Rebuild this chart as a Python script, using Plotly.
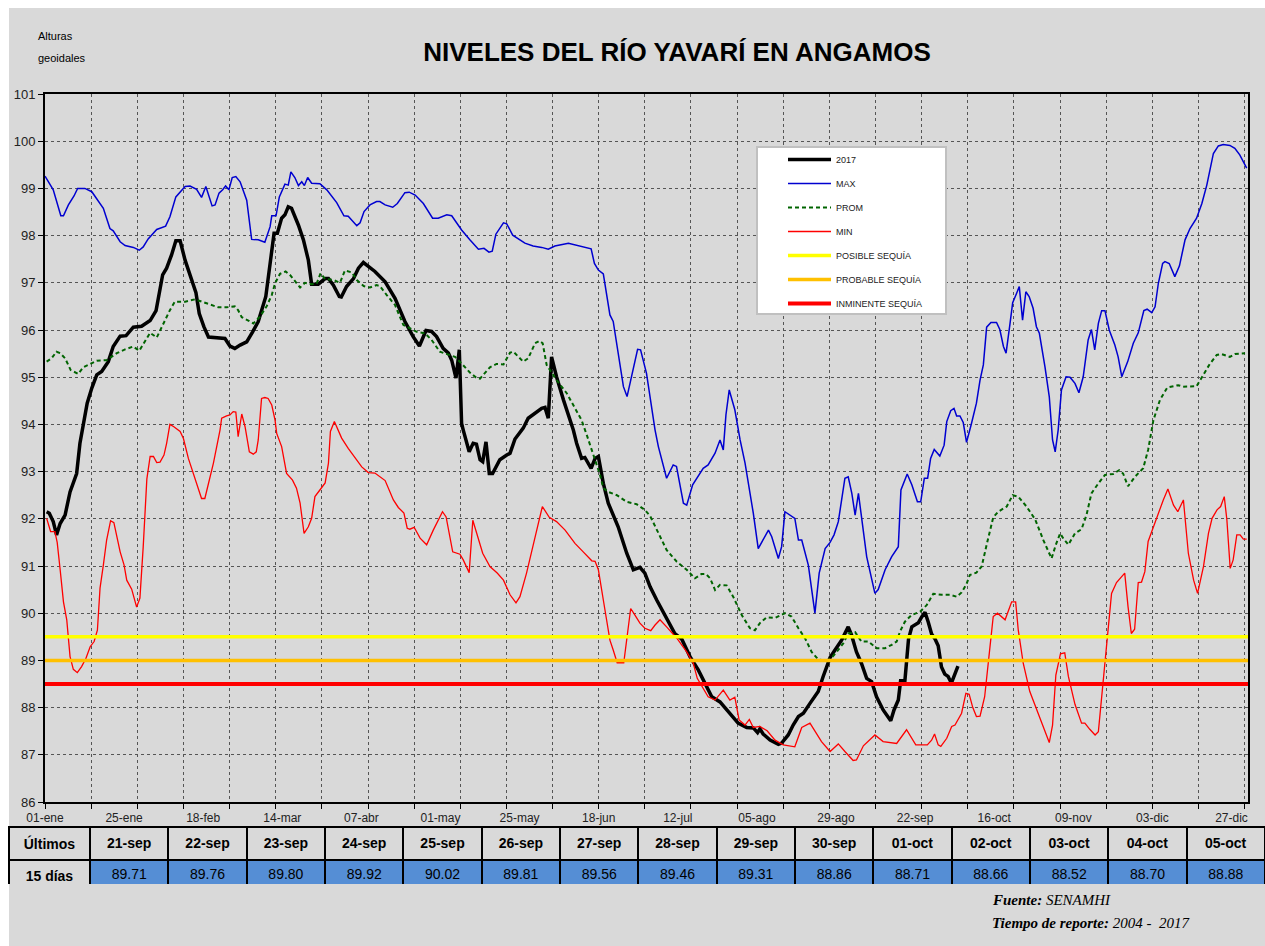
import plotly.graph_objects as go
import pandas as pd

# ---------------- data ----------------
tick_days = [0, 24, 48, 72, 96, 120, 144, 168, 192, 216, 240, 264, 288, 312, 336, 360]
tick_labels = ["01-ene", "25-ene", "18-feb", "14-mar", "07-abr", "01-may", "25-may", "18-jun",
               "12-jul", "05-ago", "29-ago", "22-sep", "16-oct", "09-nov", "03-dic", "27-dic"]

# last 15 days (table)
table_dates = ["2017-09-21", "2017-09-22", "2017-09-23", "2017-09-24", "2017-09-25",
               "2017-09-26", "2017-09-27", "2017-09-28", "2017-09-29", "2017-09-30",
               "2017-10-01", "2017-10-02", "2017-10-03", "2017-10-04", "2017-10-05"]
table_labels = ["21-sep", "22-sep", "23-sep", "24-sep", "25-sep", "26-sep", "27-sep", "28-sep",
                "29-sep", "30-sep", "01-oct", "02-oct", "03-oct", "04-oct", "05-oct"]
table_values = [89.71, 89.76, 89.80, 89.92, 90.02, 89.81, 89.56, 89.46,
                89.31, 88.86, 88.71, 88.66, 88.52, 88.70, 88.88]

# 2017 series before the table period (day of year, starting 0 = 01-ene)
y2017_days = [0.5, 1.3, 2.5, 3.5, 4.6, 6.1, 7.6, 9.6, 10.6, 11.1, 12.8, 14.2, 15.7, 17.2, 19.2, 20.7,
              22.8, 24.6, 26.8, 29.3, 31.9, 33.7, 35.7, 36.9, 38.4, 39.7, 41.0, 42.5, 44.5, 45.8,
              46.8, 48.2, 49.6, 51.1, 54.6, 56.1, 57.6, 59.2, 61.2, 63.0, 64.7, 67.0, 68.5, 69.5,
              70.5, 71.8, 72.8, 73.8, 74.8, 76.9, 78.4, 79.9, 80.9, 82.9, 85.0, 86.0, 87.5, 89.3,
              89.9, 91.5, 93.6, 95.1, 96.6, 98.1, 100.1, 103.2, 106.2, 109.2, 111.7, 113.6, 115.6,
              117.3, 118.8, 120.8, 122.4, 123.4, 124.7, 125.7, 126.4, 126.9, 128.7, 129.9, 130.9,
              132.0, 132.8, 133.8, 134.8, 135.8, 138.0, 140.1, 141.1, 142.6, 145.1, 146.6, 148.7,
              150.7, 151.7, 152.7, 153.7, 155.2, 157.3, 159.3, 160.3, 161.3, 162.8, 163.8, 165.7,
              166.9, 167.9, 169.4, 170.9, 173.9, 176.5, 178.5, 180.5, 182.0, 183.6, 185.6, 188.1,
              191.1, 193.2, 195.7, 198.2, 200.2, 202.3, 204.8, 207.8, 210.3, 212.9, 214.9, 216.2,
              216.9, 217.9, 220.0, 222.5, 223.5, 225.5, 227.0, 228.6, 230.1, 232.1, 234.6, 236.1,
              238.2, 239.7, 241.7, 243.7, 244.7, 246.2, 247.7, 249.3, 250.8, 252.3, 254.3, 256.6,
              257.6, 258.9, 259.6, 260.9, 261.6, 262.0]
y2017_vals = [92.15, 92.12, 91.94, 91.66, 91.90, 92.08, 92.57, 92.96, 93.60, 93.81, 94.45, 94.77,
              95.05, 95.12, 95.33, 95.65, 95.87, 95.88, 96.06, 96.08, 96.20, 96.41, 97.17, 97.31,
              97.59, 97.89, 97.89, 97.48, 97.06, 96.79, 96.35, 96.07, 95.85, 95.84, 95.82, 95.66,
              95.61, 95.68, 95.75, 95.96, 96.18, 96.71, 97.55, 98.05, 98.05, 98.37, 98.44, 98.61,
              98.58, 98.22, 97.91, 97.48, 96.97, 96.97, 97.09, 97.09, 96.95, 96.71, 96.70, 96.92,
              97.09, 97.31, 97.43, 97.34, 97.24, 97.02, 96.67, 96.18, 95.86, 95.66, 95.99, 95.97,
              95.86, 95.61, 95.51, 95.36, 94.98, 95.58, 94.02, 93.88, 93.42, 93.60, 93.58, 93.25,
              93.21, 93.63, 92.96, 92.96, 93.25, 93.35, 93.39, 93.69, 93.92, 94.13, 94.23, 94.34,
              94.36, 94.13, 95.43, 95.01, 94.52, 94.09, 93.88, 93.60, 93.28, 93.30, 93.07, 93.28,
              93.32, 92.75, 92.33, 91.83, 91.27, 90.92, 90.97, 90.85, 90.56, 90.28, 89.96, 89.57,
              89.45, 89.08, 88.80, 88.51, 88.23, 88.12, 87.88, 87.67, 87.58, 87.57, 87.47, 87.55,
              87.44, 87.31, 87.22, 87.25, 87.42, 87.63, 87.81, 87.88, 88.09, 88.34, 88.66, 89.06,
              89.22, 89.43, 89.71, 89.54, 89.18, 88.94, 88.62, 88.55, 88.23, 87.95, 87.72, 87.95,
              88.16, 88.57, 88.57, 89.22, 89.45]

max_days = [0, 2.5, 4.8, 5.6, 7.1, 8.8, 9.9, 12.1, 14.2, 17.7, 19.7, 20.7, 22.8, 24.3, 26.8, 28.6,
            29.8, 31.3, 33.9, 36.6, 37.9, 39.7, 42.5, 44.0, 46.0, 47.5, 48.8, 50.7, 51.6, 52.8,
            53.9, 54.8, 55.8, 56.8, 57.9, 59.2, 61.2, 62.7, 64.7, 66.7, 68.3, 68.8, 70.1, 71.1,
            72.8, 73.8, 74.6, 75.8, 76.9, 77.9, 78.7, 79.7, 80.9, 83.4, 85.5, 88.5, 90.7, 92.0,
            94.6, 95.6, 96.8, 98.6, 100.6, 101.6, 103.2, 105.5, 106.9, 109.2, 110.5, 112.3, 114.8,
            117.6, 119.3, 121.9, 123.4, 126.4, 128.9, 131.5, 133.2, 134.7, 135.7, 136.8, 139.1,
            140.1, 141.9, 144.1, 145.6, 148.1, 150.7, 152.7, 154.7, 158.8, 161.8, 165.7, 166.7,
            167.9, 169.4, 171.4, 172.4, 175.5, 176.6, 178.0, 179.8, 180.7, 182.5, 185.1, 186.1,
            188.6, 190.6, 191.6, 193.7, 194.7, 196.5, 199.7, 201.2, 203.3, 204.8, 205.8, 206.6,
            207.6, 209.3, 210.9, 212.4, 214.9, 216.4, 219.5, 220.5, 222.5, 223.5, 224.5, 227.5,
            228.6, 229.6, 231.6, 233.6, 234.9, 236.7, 238.2, 239.4, 240.7, 242.7, 243.7, 244.8,
            245.8, 246.8, 249.3, 251.8, 252.8, 254.9, 256.9, 258.9, 259.7, 261.6, 263.0, 264.7,
            265.7, 266.8, 267.8, 268.7, 269.8, 271.5, 272.8, 273.6, 274.8, 275.8, 276.6, 277.6,
            278.6, 279.6, 281.1, 282.6, 283.7, 284.7, 285.7, 287.0, 288.7, 289.7, 290.8, 291.6,
            292.8, 293.6, 294.8, 295.6, 296.6, 297.6, 298.6, 299.8, 300.8, 301.7, 303.4, 304.7,
            305.7, 306.5, 307.4, 308.4, 309.8, 311.0, 312.5, 313.7, 315.0, 316.5, 317.5, 318.5,
            319.6, 320.6, 321.6, 322.9, 324.6, 325.6, 326.7, 328.5, 330.2, 331.7, 333.4, 334.4,
            335.8, 336.8, 337.8, 339.1, 339.8, 341.1, 342.8, 344.2, 345.9, 347.4, 349.4, 351.0,
            352.5, 354.5, 356.0, 357.5, 359.5, 361.0, 362.5, 364.6]
max_vals = [99.26, 98.97, 98.42, 98.42, 98.65, 98.84, 99.00, 99.00, 98.93, 98.58, 98.15, 98.10,
            97.87, 97.79, 97.75, 97.69, 97.76, 97.93, 98.13, 98.20, 98.40, 98.82, 99.04, 99.05,
            98.98, 98.81, 99.04, 98.63, 98.65, 98.90, 98.97, 99.05, 98.97, 99.23, 99.25, 99.14,
            98.75, 97.92, 97.91, 97.86, 98.19, 98.42, 98.42, 98.82, 99.09, 99.07, 99.35, 99.23,
            99.06, 99.14, 99.06, 99.23, 99.11, 99.10, 98.97, 98.70, 98.42, 98.41, 98.21, 98.27,
            98.51, 98.65, 98.72, 98.72, 98.65, 98.60, 98.68, 98.91, 98.92, 98.86, 98.68, 98.37,
            98.37, 98.44, 98.42, 98.12, 97.91, 97.71, 97.73, 97.65, 97.67, 98.03, 98.27, 98.25,
            98.01, 97.91, 97.84, 97.78, 97.75, 97.71, 97.78, 97.84, 97.79, 97.72, 97.41, 97.27,
            97.19, 96.32, 96.18, 94.80, 94.59, 95.01, 95.59, 95.58, 95.08, 93.88, 93.53, 92.86,
            93.14, 93.11, 92.33, 92.29, 92.72, 93.07, 93.14, 93.39, 93.67, 93.46, 94.20, 94.73,
            94.31, 93.67, 93.18, 92.12, 91.37, 91.76, 91.62, 91.16, 91.41, 92.15, 92.01, 91.55,
            91.55, 91.02, 90.00, 90.85, 91.37, 91.50, 91.66, 91.94, 92.86, 92.89, 92.54, 92.08,
            92.54, 91.20, 90.42, 90.50, 90.92, 91.20, 91.41, 92.61, 92.95, 92.72, 92.36, 92.36,
            92.86, 92.86, 93.28, 93.47, 93.33, 93.56, 94.06, 94.29, 94.34, 94.18, 94.18, 94.04,
            93.62, 94.02, 94.45, 94.94, 95.26, 96.06, 96.16, 96.16, 96.01, 95.65, 95.51, 96.14,
            96.58, 96.78, 96.92, 96.21, 96.81, 96.71, 96.46, 96.07, 95.93, 95.22, 94.59, 93.67,
            93.42, 93.88, 94.73, 95.01, 95.00, 94.87, 94.67, 95.01, 95.79, 96.01, 95.58, 96.14,
            96.41, 96.41, 96.00, 95.68, 95.43, 95.01, 95.33, 95.72, 95.94, 96.41, 96.44, 96.37,
            96.49, 96.99, 97.41, 97.45, 97.41, 97.13, 97.36, 97.91, 98.15, 98.37, 98.68, 99.07,
            99.74, 99.90, 99.93, 99.91, 99.85, 99.71, 99.43]

prom_days = [0.5, 2.0, 3.5, 4.6, 6.1, 7.8, 10.1, 11.6, 13.7, 15.7, 18.7, 21.8, 24.3, 26.8, 28.6,
             30.3, 31.9, 33.9, 35.9, 37.9, 39.4, 42.5, 45.5, 47.5, 50.1, 52.6, 55.1, 57.6, 58.6,
             59.7, 61.7, 63.2, 65.2, 67.3, 68.8, 69.8, 71.3, 73.0, 74.3, 75.8, 77.4, 78.9, 80.9,
             82.4, 83.6, 85.0, 87.5, 89.5, 91.0, 93.1, 94.6, 96.7, 98.6, 100.6, 101.6, 103.7,
             106.2, 108.7, 110.7, 112.8, 115.3, 117.3, 119.8, 122.4, 124.4, 126.4, 128.9, 131.0,
             132.0, 135.0, 137.0, 139.1, 141.1, 142.1, 143.6, 145.1, 146.6, 148.7, 150.0, 151.0,
             152.2, 153.2, 155.2, 158.3, 160.3, 162.8, 164.5, 165.9, 167.4, 168.4, 169.4, 170.9,
             173.5, 176.5, 179.5, 182.0, 183.6, 185.6, 188.6, 191.7, 194.7, 197.2, 199.2, 200.5,
             201.8, 203.3, 204.8, 206.8, 208.8, 211.4, 213.9, 215.4, 216.9, 218.9, 221.5, 224.5,
             226.5, 228.6, 230.6, 232.6, 234.6, 236.6, 238.2, 240.2, 242.2, 243.7, 245.8, 247.7,
             249.8, 252.3, 254.9, 256.9, 258.4, 259.4, 260.9, 262.9, 265.5, 267.5, 269.5, 272.1,
             274.6, 276.6, 278.1, 279.6, 280.6, 282.6, 284.2, 285.7, 287.7, 289.2, 291.8, 293.6,
             295.3, 297.8, 300.4, 302.9, 305.4, 306.7, 308.0, 309.0, 310.5, 312.5, 314.5, 316.0,
             317.5, 319.6, 321.6, 324.1, 325.9, 327.1, 328.6, 330.7, 333.2, 334.7, 336.3, 338.3,
             340.5, 343.8, 345.3, 349.4, 351.2, 353.4, 355.5, 357.0, 359.5, 361.0, 364.1]
prom_vals = [95.33, 95.40, 95.54, 95.51, 95.40, 95.15, 95.07, 95.21, 95.28, 95.35, 95.36, 95.51,
             95.59, 95.65, 95.56, 95.75, 95.94, 95.84, 96.14, 96.42, 96.60, 96.60, 96.65, 96.60,
             96.55, 96.48, 96.48, 96.50, 96.42, 96.27, 96.20, 96.14, 96.28, 96.51, 96.74, 96.99,
             97.19, 97.24, 97.17, 97.04, 96.90, 97.00, 96.97, 96.98, 97.20, 97.08, 97.06, 97.00,
             97.26, 97.22, 97.06, 96.93, 96.90, 96.95, 96.93, 96.74, 96.53, 96.11, 96.04, 95.96,
             95.93, 95.79, 95.54, 95.47, 95.43, 95.29, 95.10, 94.98, 94.97, 95.21, 95.28, 95.27,
             95.52, 95.54, 95.43, 95.33, 95.40, 95.72, 95.77, 95.72, 95.26, 95.15, 94.94, 94.66,
             94.41, 94.09, 93.75, 93.46, 93.18, 92.93, 92.65, 92.57, 92.50, 92.36, 92.31, 92.19,
             92.06, 91.76, 91.34, 91.09, 90.92, 90.74, 90.83, 90.83, 90.74, 90.49, 90.60, 90.59,
             90.35, 89.96, 89.68, 89.64, 89.79, 89.91, 89.90, 90.00, 89.93, 89.68, 89.47, 89.18,
             89.02, 89.00, 89.02, 89.18, 89.36, 89.57, 89.60, 89.40, 89.40, 89.26, 89.26, 89.33,
             89.40, 89.61, 89.82, 89.96, 90.03, 90.17, 90.41, 90.39, 90.39, 90.35, 90.44, 90.62,
             90.81, 90.86, 90.99, 91.45, 92.03, 92.15, 92.26, 92.50, 92.47, 92.26, 91.99, 91.55,
             91.16, 91.45, 91.69, 91.58, 91.45, 91.69, 91.78, 92.08, 92.54, 92.75, 92.93, 92.95,
             93.03, 92.96, 92.69, 92.89, 93.07, 93.46, 94.09, 94.52, 94.78, 94.83, 94.80, 94.81,
             95.01, 95.28, 95.47, 95.49, 95.43, 95.49, 95.51]

min_days = [0.5, 1.7, 3.0, 3.7, 4.6, 5.6, 6.6, 7.6, 8.6, 9.8, 11.1, 12.4, 13.7, 14.9, 15.9, 16.7,
            17.7, 18.7, 19.9, 20.9, 22.8, 24.0, 24.8, 26.3, 27.8, 28.8, 29.8, 30.9, 31.9, 32.9,
            33.9, 34.9, 36.1, 36.9, 37.9, 39.1, 41.0, 42.0, 43.5, 45.5, 47.5, 48.5, 50.1, 51.1,
            53.1, 53.6, 55.1, 56.1, 57.1, 57.9, 58.6, 59.7, 60.7, 62.0, 63.2, 64.1, 64.7, 65.7,
            66.7, 67.7, 68.8, 69.8, 70.3, 71.8, 73.3, 75.1, 76.3, 77.4, 78.6, 79.9, 80.9, 81.9,
            83.4, 85.0, 86.0, 86.6, 87.8, 89.0, 90.0, 92.0, 93.5, 96.1, 98.1, 100.1, 103.2, 105.7,
            107.2, 108.9, 109.9, 110.7, 112.0, 113.8, 115.8, 117.8, 120.6, 121.7, 123.7, 125.9,
            126.9, 128.7, 129.8, 131.0, 132.8, 135.0, 137.2, 139.1, 141.1, 142.9, 144.1, 146.1,
            148.7, 150.9, 153.0, 155.2, 157.8, 160.8, 163.3, 165.9, 166.9, 167.9, 169.4, 171.4,
            172.4, 173.6, 175.6, 176.5, 177.7, 179.0, 180.5, 182.0, 183.8, 185.1, 186.6, 188.6,
            191.7, 194.7, 196.7, 197.9, 199.7, 201.2, 203.3, 205.8, 207.8, 209.3, 210.6, 212.4,
            213.7, 214.9, 216.9, 219.1, 221.5, 224.0, 227.5, 229.6, 232.1, 233.6, 235.6, 238.2,
            240.7, 242.7, 245.2, 246.2, 248.3, 251.8, 254.3, 258.4, 259.9, 261.4, 264.2, 267.7,
            269.0, 269.9, 271.0, 271.8, 273.6, 275.1, 276.1, 278.1, 279.4, 280.4, 281.5, 282.6,
            283.7, 285.1, 286.4, 287.7, 289.0, 291.3, 293.3, 294.5, 295.3, 296.8, 298.8, 300.8,
            302.9, 304.7, 305.7, 306.7, 308.1, 309.4, 310.5, 312.5, 314.5, 315.5, 317.0, 318.6,
            319.6, 320.6, 322.1, 323.6, 325.1, 327.6, 328.6, 329.6, 330.6, 331.7, 332.7, 333.7,
            334.7, 336.3, 337.8, 339.3, 340.7, 342.4, 343.7, 345.4, 346.9, 348.5, 349.7, 351.5,
            353.0, 354.1, 355.6, 356.7, 357.8, 358.6, 359.6, 360.5, 361.6, 362.6, 363.6, 364.6]
min_vals = [92.01, 91.73, 91.73, 91.50, 90.92, 90.24, 89.86, 89.08, 88.81, 88.74, 88.87, 89.04,
            89.29, 89.40, 89.64, 90.53, 91.02, 91.55, 91.96, 91.92, 91.30, 91.02, 90.70, 90.51,
            90.13, 90.32, 91.41, 92.84, 93.32, 93.32, 93.19, 93.20, 93.35, 93.60, 94.00, 93.95,
            93.85, 93.70, 93.28, 92.86, 92.43, 92.43, 92.86, 93.18, 93.88, 94.13, 94.18, 94.20,
            94.27, 94.26, 93.74, 94.22, 93.95, 93.42, 93.37, 93.42, 93.67, 94.55, 94.57, 94.55,
            94.41, 94.09, 93.81, 93.53, 92.96, 92.82, 92.65, 92.33, 91.69, 91.83, 92.01, 92.47,
            92.61, 92.76, 93.18, 93.85, 94.06, 93.85, 93.71, 93.49, 93.35, 93.10, 92.98, 92.97,
            92.81, 92.40, 92.24, 92.12, 91.80, 91.78, 91.82, 91.59, 91.45, 91.76, 92.15, 92.04,
            91.30, 91.25, 91.13, 90.86, 91.97, 91.69, 91.27, 90.99, 90.85, 90.70, 90.39, 90.22,
            90.35, 90.85, 91.62, 92.26, 92.03, 91.94, 91.76, 91.48, 91.30, 91.11, 91.10, 90.92,
            90.28, 89.43, 89.22, 88.95, 88.95, 89.50, 90.10, 89.96, 89.79, 89.68, 89.63, 89.75,
            89.86, 89.71, 89.47, 89.18, 88.94, 88.62, 88.41, 88.23, 88.16, 88.37, 88.16, 88.22,
            87.74, 87.63, 87.75, 87.58, 87.60, 87.51, 87.31, 87.21, 87.17, 87.58, 87.67, 87.49,
            87.28, 87.07, 87.23, 87.07, 86.88, 86.89, 87.19, 87.42, 87.28, 87.24, 87.38, 87.53,
            87.21, 87.21, 87.31, 87.44, 87.21, 87.18, 87.35, 87.60, 87.63, 87.88, 88.30, 88.28,
            88.00, 87.81, 87.82, 88.23, 89.08, 89.93, 90.00, 89.86, 90.24, 90.24, 89.64, 88.94,
            88.34, 87.98, 87.60, 87.26, 87.63, 88.69, 89.14, 89.16, 88.66, 88.07, 87.67, 87.67,
            87.54, 87.42, 87.49, 88.23, 89.22, 90.42, 90.65, 90.85, 90.14, 89.57, 89.66, 90.65,
            90.66, 90.88, 91.52, 91.83, 92.12, 92.40, 92.63, 92.29, 92.15, 92.40, 91.27, 90.70,
            90.42, 90.99, 91.69, 92.01, 92.19, 92.26, 92.47, 91.97, 90.95, 91.13, 91.66, 91.66,
            91.57, 91.57]

threshold_names = ["POSIBLE SEQUÍA", "PROBABLE SEQUÍA", "INMINENTE SEQUÍA"]
threshold_levels = [89.5, 89.0, 88.5]

# ---------------- styles ----------------
SANS = "Arial, 'Liberation Sans', sans-serif"
SERIF = "'Times New Roman', 'Liberation Serif', serif"
W, H = 1265, 946
PL, PR, PT, PB = 45, 1248, 94, 802
BG = "#d9d9d9"

start = pd.Timestamp("2017-01-01")
table_days = [(pd.Timestamp(d) - start).days for d in table_dates]
x2017 = y2017_days + table_days
v2017 = y2017_vals + table_values

fig = go.Figure()
fig.add_trace(go.Scatter(x=x2017, y=v2017, name="2017", mode="lines",
                         line=dict(color="black", width=3.5)))
fig.add_trace(go.Scatter(x=max_days, y=max_vals, name="MAX", mode="lines",
                         line=dict(color="#0000d0", width=1.5)))
fig.add_trace(go.Scatter(x=prom_days, y=prom_vals, name="PROM", mode="lines",
                         line=dict(color="#006400", width=2, dash="4px,3px")))
fig.add_trace(go.Scatter(x=min_days, y=min_vals, name="MIN", mode="lines",
                         line=dict(color="#ff0000", width=1.3)))
th_colors = ["#ffff00", "#ffc000", "#ff0000"]
th_widths = [3.5, 3.5, 4]
for nm, lv, c, w in zip(threshold_names, threshold_levels, th_colors, th_widths):
    fig.add_trace(go.Scatter(x=[0, 365], y=[lv, lv], name=nm, mode="lines",
                             line=dict(color=c, width=w)))
for i, tr in enumerate(fig.data):
    tr.legendgroup = f"g{i}"

# helper trace for the label axis
fig.add_trace(go.Scatter(x=[0, 365], y=[None, None], xaxis="x2", showlegend=False,
                         hoverinfo="skip", mode="lines"))

# table
fig.add_trace(go.Table(
    domain=dict(x=[9 / W, 1.0], y=[1 - 884 / H, 1 - 827 / H]),
    columnwidth=[81] + [78.3] * 15,
    header=dict(values=["<b>Últimos</b>"] + [f"<b>{d}</b>" for d in table_labels],
                height=28, fill_color=BG, line=dict(color="black", width=2),
                font=dict(family=SANS, size=14, color="black"), align="center"),
    cells=dict(values=[["<b>15 días</b>"]] + [[f"{v:.2f}"] for v in table_values],
               height=26, fill_color=[BG] + ["#558ed5"] * 15,
               line=dict(color="black", width=2),
               font=dict(family=SANS, size=14, color="black"), align="center"),
))

fig.update_layout(
    width=W, height=H,
    margin=dict(l=0, r=0, t=0, b=0, autoexpand=False),
    paper_bgcolor="white", plot_bgcolor="white",
    font=dict(family=SANS, color="black"),
    xaxis=dict(domain=[PL / W, PR / W], range=[0, 365], tickmode="linear", tick0=0, dtick=14,
               showticklabels=False, ticks="outside", ticklen=5, tickcolor="black",
               showgrid=True, gridcolor="#555555", griddash="dot", gridwidth=1,
               showline=True, linecolor="black", linewidth=2, mirror=True, zeroline=False,
               automargin=False),
    xaxis2=dict(overlaying="x", side="bottom", range=[0, 365], tickmode="array",
                tickvals=tick_days, ticktext=tick_labels, ticks="outside", ticklen=5,
                tickcolor="rgba(0,0,0,0)", showgrid=False, zeroline=False, showline=False,
                automargin=False, tickfont=dict(family=SANS, size=12, color="#222")),
    yaxis=dict(domain=[1 - PB / H, 1 - PT / H], range=[86, 101], tickmode="linear", tick0=86,
               dtick=1, ticks="outside", ticklen=5, tickcolor="black",
               showgrid=True, gridcolor="#555555", griddash="dot", gridwidth=1,
               showline=True, linecolor="black", linewidth=2, mirror=True, zeroline=False,
               automargin=False, tickfont=dict(family=SANS, size=13, color="#222")),
    title=dict(text="<b>NIVELES DEL RÍO YAVARÍ EN ANGAMOS</b>", x=677 / W, xanchor="center",
               y=1 - 52 / H, yanchor="middle", yref="container",
               font=dict(family=SANS, size=26, color="black")),
    showlegend=True,
    legend=dict(x=783 / W, y=1 - 145 / H, xanchor="left", yanchor="top",
                bgcolor="rgba(0,0,0,0)", borderwidth=0, tracegroupgap=5, itemwidth=43,
                font=dict(family=SANS, size=9, color="#222"), traceorder="grouped"),
    shapes=[
        dict(type="rect", xref="paper", yref="paper", x0=9 / W, x1=1, y0=0, y1=1 - 8 / H,
             fillcolor=BG, line=dict(width=0), layer="below"),
        dict(type="rect", xref="paper", yref="paper", x0=757 / W, x1=946 / W,
             y0=1 - 314 / H, y1=1 - 147 / H, fillcolor="white",
             line=dict(color="#c0c0c0", width=2), layer="above"),
    ],
    annotations=[
        dict(text="Alturas", x=36 / W, y=1 - 36 / H, xref="paper", yref="paper",
             xanchor="left", yanchor="middle", showarrow=False,
             font=dict(family=SANS, size=11, color="black")),
        dict(text="geoidales", x=36 / W, y=1 - 58 / H, xref="paper", yref="paper",
             xanchor="left", yanchor="middle", showarrow=False,
             font=dict(family=SANS, size=11, color="black")),
        dict(text="<b><i>Fuente:</i></b><i> SENAMHI</i>", x=990 / W, y=1 - 900 / H,
             xref="paper", yref="paper", xanchor="left", yanchor="middle", showarrow=False,
             font=dict(family=SERIF, size=15, color="black")),
        dict(text="<b><i>Tiempo de reporte:</i></b><i> 2004 -  2017</i>", x=990 / W,
             y=1 - 923 / H, xref="paper", yref="paper", xanchor="left", yanchor="middle",
             showarrow=False, font=dict(family=SERIF, size=15, color="black")),
    ],
)

fig.write_html("out.html", config={"displayModeBar": False},
               post_script="document.body.style.margin='0';document.body.style.overflow='hidden';")
